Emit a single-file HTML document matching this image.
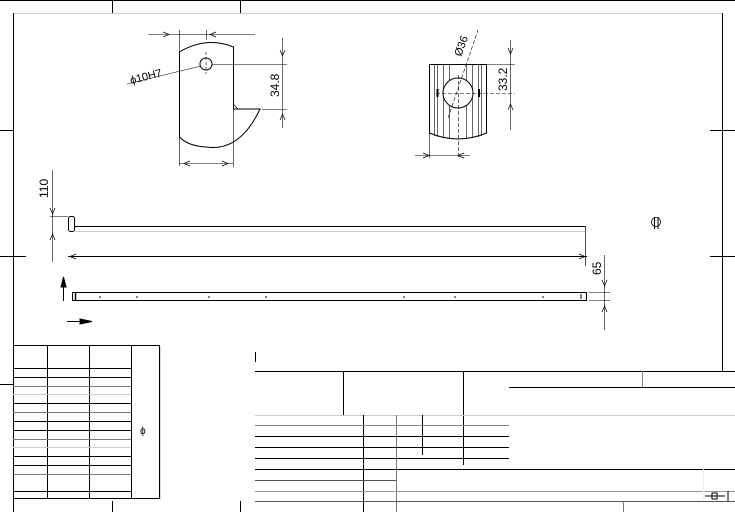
<!DOCTYPE html>
<html><head><meta charset="utf-8"><style>
html,body{margin:0;padding:0;background:#fff}
svg{display:block}
text{font-family:"Liberation Sans",sans-serif;fill:#000}
</style></head><body>
<svg width="735" height="512" viewBox="0 0 735 512" xmlns="http://www.w3.org/2000/svg">
<g stroke="#000" stroke-width="1" fill="none">
<!-- outer / frame -->
<line x1="0" y1="0.5" x2="735" y2="0.5"/>
<line x1="112.5" y1="0" x2="112.5" y2="13"/>
<line x1="240.5" y1="0" x2="240.5" y2="13"/>
<line x1="13" y1="13.5" x2="722" y2="13.5" stroke="#ccc"/>
<line x1="13.5" y1="13" x2="13.5" y2="512"/>
<line x1="722.5" y1="13" x2="722.5" y2="371"/>
<line x1="0" y1="130.5" x2="13" y2="130.5"/>
<line x1="0" y1="256.5" x2="26" y2="256.5"/>
<line x1="0" y1="384.5" x2="13" y2="384.5"/>
<line x1="710" y1="130.5" x2="735" y2="130.5"/>
<line x1="710" y1="256.5" x2="735" y2="256.5"/>
<line x1="112.5" y1="501" x2="112.5" y2="512"/>
<line x1="240.5" y1="501" x2="240.5" y2="512"/>

<!-- left view -->
<path d="M179.5,52 Q206,36 233.5,47 L233.5,109 L260,109 Q240,152 206,147 Q188,146 179.5,137 Z"/>
<line x1="233" y1="104" x2="238" y2="109" stroke-width="0.7"/>
<circle cx="206" cy="64" r="6"/>
<g stroke-width="0.6">
<line x1="206" y1="52" x2="206" y2="74" stroke-dasharray="3,2"/>
<line x1="148" y1="34.5" x2="255" y2="34.5"/>
<line x1="179.5" y1="30" x2="179.5" y2="166"/>
<line x1="206.5" y1="30" x2="206.5" y2="40"/>
<line x1="212" y1="64.5" x2="287" y2="64.5"/>
<line x1="262" y1="109.5" x2="287" y2="109.5"/>
<line x1="282.5" y1="38" x2="282.5" y2="128"/>
<line x1="179" y1="163.5" x2="233" y2="163.5"/>
<line x1="233.5" y1="109" x2="233.5" y2="167"/>
<line x1="127" y1="84" x2="201" y2="66"/>
</g>
<path d="M163,32 l6,2.5 l-6,2.5 M216,32 l-6,2.5 l6,2.5 M280,50 l2.5,6 l2.5,-6 M280,120 l2.5,-6 l2.5,6 M190,161 l-6,2.5 l6,2.5 M222,161 l6,2.5 l-6,2.5" stroke-width="0.7"/>

<!-- right view -->
<path d="M429.5,64.5 L486.5,64.5 L486.5,133 Q458,145 429.5,133 Z"/>
<g stroke-width="0.6">
<line x1="434.5" y1="64" x2="434.5" y2="136"/>
<line x1="437.5" y1="64" x2="437.5" y2="137"/>
<line x1="443.5" y1="64" x2="443.5" y2="138"/>
<line x1="449.5" y1="64" x2="449.5" y2="139"/>
<line x1="466.5" y1="64" x2="466.5" y2="139"/>
<line x1="472.5" y1="64" x2="472.5" y2="138"/>
<line x1="478.5" y1="64" x2="478.5" y2="137"/>
<line x1="481.5" y1="64" x2="481.5" y2="136"/>
</g>
<circle cx="458" cy="93" r="15" fill="#fff"/>
<line x1="437.5" y1="89" x2="437.5" y2="97" stroke-width="2"/>
<line x1="479" y1="89" x2="479" y2="97" stroke-width="2"/>
<g stroke-width="0.6">
<line x1="436" y1="93.5" x2="515" y2="93.5" stroke-dasharray="4,2"/>
<line x1="458.5" y1="75" x2="458.5" y2="158" stroke-dasharray="4,2"/>
<line x1="448" y1="118" x2="478" y2="30" stroke-dasharray="4,2"/>
<line x1="486" y1="64.5" x2="515" y2="64.5"/>
<line x1="510.5" y1="40" x2="510.5" y2="130"/>
<line x1="429.5" y1="133" x2="429.5" y2="158"/>
<line x1="415" y1="155.5" x2="470" y2="155.5"/>
</g>
<path d="M508,48 l2.5,6 l2.5,-6 M508,110 l2.5,-6 l2.5,6 M423,153 l6,2.5 l-6,2.5 M464,153 l-6,2.5 l6,2.5" stroke-width="0.7"/>

<!-- long beam view -->
<line x1="75" y1="226.5" x2="585" y2="226.5"/>
<line x1="75" y1="231.5" x2="585" y2="231.5" stroke="#ccc"/>
<line x1="585.5" y1="226" x2="585.5" y2="266" stroke-width="0.7"/>
<rect x="68.5" y="216.5" width="6" height="15" rx="2"/>
<line x1="52.5" y1="170" x2="52.5" y2="262" stroke-width="0.6"/>
<line x1="50" y1="216.5" x2="68" y2="216.5" stroke-width="0.6"/>
<path d="M50,208 l2.5,6 l2.5,-6 M50,240 l2.5,-6 l2.5,6" stroke-width="0.7"/>
<line x1="68" y1="256.5" x2="587" y2="256.5"/>
<path d="M76,254 l-6,2.5 l6,2.5 M579,254 l6,2.5 l-6,2.5" stroke-width="0.7"/>
<!-- lower beam -->
<rect x="72.5" y="292.5" width="514" height="8"/>
<line x1="75.5" y1="293" x2="75.5" y2="300" stroke-width="1.5"/>
<g stroke-width="1">
<line x1="100" y1="296" x2="100" y2="298"/><line x1="137" y1="296" x2="137" y2="298"/>
<line x1="209" y1="296" x2="209" y2="298"/><line x1="266" y1="296" x2="266" y2="298"/>
<line x1="404" y1="296" x2="404" y2="298"/><line x1="455" y1="296" x2="455" y2="298"/>
<line x1="543" y1="296" x2="543" y2="298"/><line x1="581" y1="294" x2="581" y2="299"/>
</g>
<line x1="604.5" y1="255" x2="604.5" y2="330" stroke-width="0.6"/>
<line x1="589" y1="292.5" x2="610" y2="292.5" stroke-width="0.6"/>
<line x1="589" y1="300.5" x2="610" y2="300.5" stroke-width="0.6"/>
<path d="M602,280 l2.5,6 l2.5,-6 M602,312 l2.5,-6 l2.5,6" stroke-width="0.7"/>
<line x1="63.5" y1="280" x2="63.5" y2="301"/>
<path d="M61,287 l2.5,-10 l2.5,10 Z" fill="#000"/>
<line x1="67" y1="321.5" x2="92" y2="321.5"/>
<path d="M80,319 l12,2.5 l-12,2.5 Z" fill="#000"/>
<!-- small symbol -->
<circle cx="656" cy="222" r="4.5" stroke-width="0.8"/>
<line x1="654.5" y1="217" x2="654.5" y2="229"/><line x1="658" y1="217" x2="658" y2="229"/>

<!-- left table -->
<rect x="13.5" y="345.5" width="146" height="153"/>
<line x1="47.5" y1="346" x2="47.5" y2="498"/>
<line x1="89.5" y1="346" x2="89.5" y2="498"/>
<line x1="131.5" y1="346" x2="131.5" y2="498"/>
<g>
<line x1="13" y1="368.5" x2="131" y2="368.5"/>
<line x1="13" y1="377.5" x2="131" y2="377.5"/>
<line x1="13" y1="386.5" x2="131" y2="386.5" stroke="#777"/>
<line x1="13" y1="394.5" x2="131" y2="394.5" stroke="#ccc"/>
<line x1="13" y1="403.5" x2="131" y2="403.5"/>
<line x1="13" y1="412.5" x2="131" y2="412.5" stroke="#777"/>
<line x1="13" y1="421.5" x2="131" y2="421.5"/>
<line x1="13" y1="430.5" x2="131" y2="430.5"/>
<line x1="13" y1="439.5" x2="131" y2="439.5" stroke="#777"/>
<line x1="13" y1="447.5" x2="131" y2="447.5" stroke="#ccc"/>
<line x1="13" y1="456.5" x2="131" y2="456.5"/>
<line x1="13" y1="465.5" x2="131" y2="465.5"/>
<line x1="13" y1="474.5" x2="131" y2="474.5" stroke="#777"/>
<line x1="13" y1="491.5" x2="131" y2="491.5"/>
</g>
<line x1="160.5" y1="346" x2="160.5" y2="500" stroke="#ddd"/>

<!-- title block -->
<line x1="255.5" y1="352" x2="255.5" y2="362"/>
<line x1="255" y1="371.5" x2="735" y2="371.5"/>
<line x1="343.5" y1="371" x2="343.5" y2="415"/>
<line x1="463.5" y1="371" x2="463.5" y2="465"/>
<line x1="509" y1="387.5" x2="735" y2="387.5"/>
<line x1="642.5" y1="371" x2="642.5" y2="387" stroke="#888"/>
<line x1="255" y1="415.5" x2="735" y2="415.5" stroke="#ccc"/>
<line x1="363.5" y1="415" x2="363.5" y2="512"/>
<line x1="396.5" y1="415" x2="396.5" y2="512" stroke="#777"/>
<line x1="422.5" y1="415" x2="422.5" y2="455"/>
<line x1="255" y1="425.5" x2="509" y2="425.5" stroke="#888"/>
<line x1="255" y1="436.5" x2="509" y2="436.5"/>
<line x1="255" y1="447.5" x2="509" y2="447.5"/>
<line x1="255" y1="458.5" x2="509" y2="458.5"/>
<line x1="255" y1="469.5" x2="735" y2="469.5"/>
<line x1="255" y1="480.5" x2="396" y2="480.5" stroke="#555"/>
<line x1="255" y1="491.5" x2="735" y2="491.5" stroke="#999"/>
<line x1="255" y1="501.5" x2="735" y2="501.5" stroke="#555"/>
<line x1="623.5" y1="501" x2="623.5" y2="512" stroke="#777"/>
<line x1="703.5" y1="469" x2="703.5" y2="501" stroke="#eee"/>
<path d="M705,496 h20 M712,493 h5 v6 h-5 z M728,491 v10" stroke-width="1"/>
</g>

<!-- text -->
<text x="0" y="0" font-size="12" transform="translate(279,97) rotate(-90)">34.8</text>
<text x="0" y="0" font-size="12" transform="translate(507,91) rotate(-90)">33.2</text>
<text x="0" y="0" font-size="12" transform="translate(48,198) rotate(-90)">110</text>
<text x="0" y="0" font-size="12" transform="translate(601,275) rotate(-90)">65</text>
<text x="0" y="0" font-size="11" transform="translate(131,84) rotate(-14)">ϕ10H7</text>
<text x="0" y="0" font-size="11" transform="translate(461,57) rotate(-70)">Ø36</text>
<text x="140" y="434" font-size="10">ϕ</text>
</svg>
</body></html>
